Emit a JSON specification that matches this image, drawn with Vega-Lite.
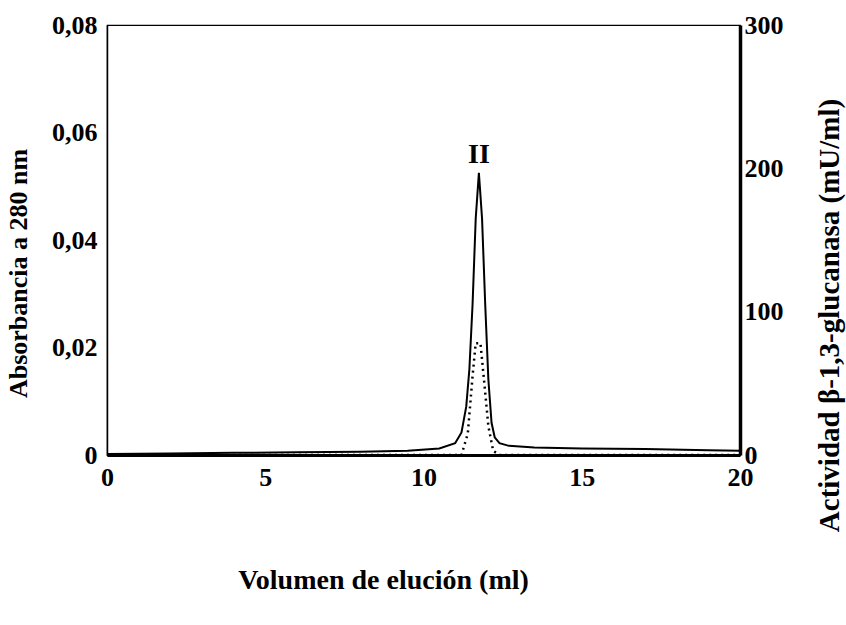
{
  "$schema": "https://vega.github.io/schema/vega-lite/v6.json",
  "autosize": {"type": "none"},
  "width": 633,
  "height": 430,
  "padding": {"left": 107, "top": 25, "right": 106, "bottom": 170},
  "background": "white",
  "config": {
    "view": {"stroke": "black", "strokeWidth": 1.2},
    "font": "Liberation Serif",
    "axis": {
      "labelFont": "Liberation Serif",
      "titleFont": "Liberation Serif",
      "labelFontWeight": "bold",
      "titleFontWeight": "bold",
      "labelColor": "black",
      "titleColor": "black",
      "domainColor": "black",
      "ticks": false,
      "grid": false,
      "labelFlush": false,
      "labelOverlap": false
    }
  },
  "datasets": {
    "absorbance": [
      {"vol": 0, "abs": 0.0002},
      {"vol": 2, "abs": 0.0003},
      {"vol": 4, "abs": 0.0004},
      {"vol": 6, "abs": 0.0005},
      {"vol": 8, "abs": 0.0006},
      {"vol": 9.5, "abs": 0.0008},
      {"vol": 10.5, "abs": 0.0012},
      {"vol": 11.0, "abs": 0.0022},
      {"vol": 11.2, "abs": 0.0042},
      {"vol": 11.35, "abs": 0.009},
      {"vol": 11.45, "abs": 0.016},
      {"vol": 11.55, "abs": 0.028},
      {"vol": 11.65, "abs": 0.044},
      {"vol": 11.75, "abs": 0.0525},
      {"vol": 11.85, "abs": 0.044},
      {"vol": 11.95, "abs": 0.028},
      {"vol": 12.05, "abs": 0.014},
      {"vol": 12.15, "abs": 0.006},
      {"vol": 12.25, "abs": 0.0033},
      {"vol": 12.4, "abs": 0.0022},
      {"vol": 12.7, "abs": 0.0017},
      {"vol": 13.5, "abs": 0.0014},
      {"vol": 15, "abs": 0.0012},
      {"vol": 17, "abs": 0.0011},
      {"vol": 19, "abs": 0.0009},
      {"vol": 20, "abs": 0.0008}
    ],
    "activity": [
      {"vol": 0, "act": 0},
      {"vol": 5, "act": 0},
      {"vol": 10, "act": 0},
      {"vol": 11.2, "act": 0},
      {"vol": 11.4, "act": 15},
      {"vol": 11.55, "act": 55},
      {"vol": 11.65, "act": 78},
      {"vol": 11.8, "act": 78},
      {"vol": 11.9, "act": 55},
      {"vol": 12.05, "act": 20},
      {"vol": 12.2, "act": 3},
      {"vol": 12.4, "act": 0},
      {"vol": 15, "act": 0},
      {"vol": 20, "act": 0}
    ],
    "label": [{"vol": 11.75, "y": 0.0558, "txt": "II"}]
  },
  "layer": [
    {
      "data": {"name": "absorbance"},
      "mark": {"type": "line", "color": "black", "strokeWidth": 2},
      "encoding": {
        "x": {
          "field": "vol", "type": "quantitative",
          "scale": {"domain": [0, 20], "nice": false},
          "axis": {
            "values": [0, 5, 10, 15, 20],
            "title": "Volumen de elución (ml)",
            "titleFontSize": 28,
            "labelFontSize": 26,
            "labelPadding": 9,
            "domainWidth": 3,
            "titleX": 276,
            "titleY": 125,
            "titleBaseline": "middle"
          }
        },
        "y": {
          "field": "abs", "type": "quantitative",
          "scale": {"domain": [0, 0.08], "nice": false},
          "axis": {
            "orient": "left",
            "values": [0, 0.02, 0.04, 0.06, 0.08],
            "labelExpr": "datum.value == 0 ? '0' : replace(format(datum.value, '.2f'), '.', ',')",
            "title": "Absorbancia a 280 nm",
            "titleFontSize": 26,
            "labelFontSize": 26,
            "labelPadding": 10,
            "domainWidth": 1.5,
            "titleX": -89,
            "titleY": 248,
            "titleAngle": -90,
            "titleBaseline": "middle"
          }
        }
      }
    },
    {
      "data": {"name": "label"},
      "mark": {"type": "text", "font": "Liberation Serif", "fontWeight": "bold", "fontSize": 28, "color": "black", "baseline": "middle"},
      "encoding": {
        "x": {"field": "vol", "type": "quantitative"},
        "y": {"field": "y", "type": "quantitative", "scale": {"domain": [0, 0.08], "nice": false}, "axis": null},
        "text": {"field": "txt"}
      }
    },
    {
      "data": {"name": "activity"},
      "mark": {"type": "line", "color": "black", "strokeWidth": 2.5, "strokeDash": [2, 4]},
      "encoding": {
        "x": {"field": "vol", "type": "quantitative"},
        "y": {
          "field": "act", "type": "quantitative",
          "scale": {"domain": [0, 300], "nice": false},
          "axis": {
            "orient": "right",
            "values": [0, 100, 200, 300],
            "title": "Actividad β-1,3-glucanasa (mU/ml)",
            "titleFontSize": 29,
            "labelFontSize": 26,
            "labelPadding": 4,
            "domainWidth": 3.5,
            "titleX": 89,
            "titleY": 290,
            "titleAngle": -90,
            "titleBaseline": "middle"
          }
        }
      }
    }
  ],
  "resolve": {"scale": {"y": "independent"}}
}
